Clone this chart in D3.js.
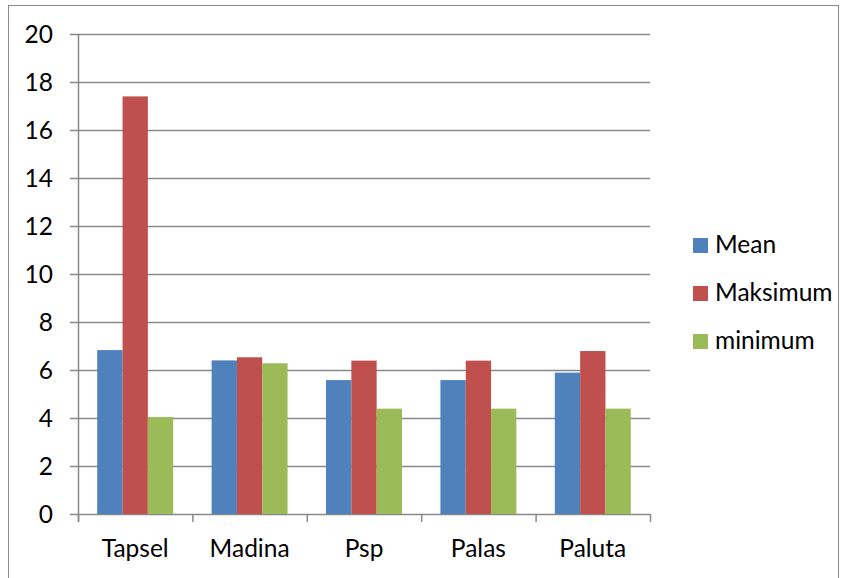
<!DOCTYPE html>
<html><head><meta charset="utf-8">
<script src="https://cdn.jsdelivr.net/npm/d3@7"></script>
<style>body{margin:0;background:#fff}svg{display:block}text{font-family:Lato,sans-serif;fill:#000}</style>
</head><body><svg id="c" width="849" height="578"></svg>
<script>
const categories = ["Tapsel","Madina","Psp","Palas","Paluta"];
const seriesNames = ["Mean","Maksimum","minimum"];
const mean = [6.83, 6.4, 5.58, 5.58, 5.89];
const maksimum = [17.4, 6.53, 6.39, 6.39, 6.79];
const minimum = [4.04, 6.28, 4.39, 4.39, 4.39];
const yTicks = [0,2,4,6,8,10,12,14,16,18,20];
const colors = ["#4F81BD","#C0504D","#9BBB59"];

const series = [mean, maksimum, minimum];
const svg = d3.select("#c");
svg.append("rect").attr("x",8.5).attr("y",5.5).attr("width",830).attr("height",600)
  .attr("fill","none").attr("stroke","#888").attr("stroke-width",1);

const x0 = d3.scaleBand().domain(categories).range([78,650]).paddingInner(0.336).paddingOuter(0.168);
const x1 = d3.scaleBand().domain(seriesNames).range([0,x0.bandwidth()]);
const y = d3.scaleLinear().domain([0,20]).range([514,34]);

const grid = svg.append("g");
grid.selectAll("line").data(yTicks).join("line")
  .attr("x1",70).attr("x2",650).attr("y1",d=>y(d)+0.5).attr("y2",d=>y(d)+0.5)
  .attr("stroke","#888").attr("stroke-width",1.5);

const bars = svg.append("g");
categories.forEach((c,i)=>{
  seriesNames.forEach((s,j)=>{
    bars.append("rect").attr("x",x0(c)+x1(s)).attr("width",x1.bandwidth())
      .attr("y",y(series[j][i])).attr("height",y(0)-y(series[j][i]))
      .attr("fill",colors[j]);
  });
});

svg.append("line").attr("x1",78.5).attr("x2",78.5).attr("y1",34).attr("y2",522).attr("stroke","#888").attr("stroke-width",1.5);
const bounds = [78].concat(categories.map((c,i)=>78+(650-78)*(i+1)/categories.length));
svg.append("g").selectAll("line").data(bounds).join("line")
  .attr("x1",d=>d+0.5).attr("x2",d=>d+0.5).attr("y1",514).attr("y2",522)
  .attr("stroke","#888").attr("stroke-width",1.5);

const fs = 24.5;
svg.append("g").selectAll("text").data(yTicks).join("text")
  .attr("x",53).attr("y",d=>y(d)+8.5).attr("text-anchor","end").attr("font-size",fs).text(d=>d);

svg.append("g").selectAll("text").data(categories).join("text")
  .attr("x",d=>x0(d)+x0.bandwidth()/2).attr("y",557).attr("text-anchor","middle").attr("font-size",fs).text(d=>d);

const lg = svg.append("g");
seriesNames.forEach((s,j)=>{
  lg.append("rect").attr("x",693).attr("y",238+48*j).attr("width",15).attr("height",15).attr("fill",colors[j]);
  lg.append("text").attr("x",715).attr("y",253+48*j).attr("font-size",fs).text(s);
});
</script></body></html>
